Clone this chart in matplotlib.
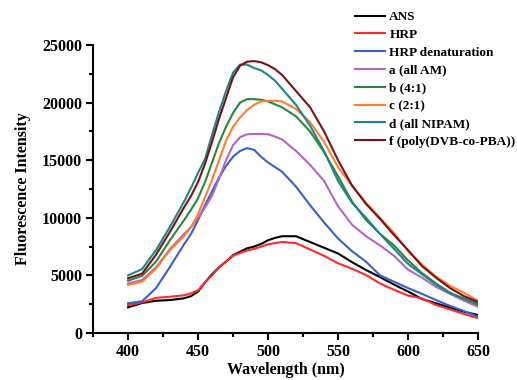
import numpy as np
import matplotlib
matplotlib.use("Agg")
import matplotlib.pyplot as plt
from matplotlib.ticker import MultipleLocator

# wavelength (nm)
wavelength = [400, 410, 420, 430, 440, 445, 450, 455, 460, 465, 470, 475, 480, 485, 490,
              495, 500, 505, 510, 520, 530, 540, 550, 560, 570, 580, 590, 600, 610, 620,
              630, 640, 650]

ans = [2230, 2600, 2800, 2860, 3010, 3200, 3600, 4400, 5100, 5700, 6200, 6750, 7050, 7350, 7500,
       7730, 8050, 8250, 8400, 8400, 7900, 7400, 6900, 6150, 5470, 4850, 4200, 3600, 2950, 2580,
       2200, 1850, 1560]
hrp = [2430, 2650, 3050, 3150, 3270, 3450, 3700, 4400, 5000, 5700, 6200, 6700, 6950, 7150, 7300,
       7500, 7700, 7800, 7900, 7800, 7250, 6700, 6050, 5580, 5030, 4300, 3750, 3250, 3000, 2430,
       2050, 1650, 1280]
hrp_denat = [2580, 2750, 3900, 5750, 7700, 8600, 9800, 11100, 12300, 13500, 14500, 15300, 15800, 16050, 15900,
             15300, 14800, 14400, 14000, 12700, 11100, 9600, 8200, 7100, 6190, 5000, 4450, 3900, 3400, 2860,
             2350, 1900, 1420]
a_all_am = [4300, 4600, 5700, 7300, 8600, 9200, 10000, 10900, 11900, 13400, 15000, 16300, 17000, 17250, 17270,
            17270, 17250, 17050, 16800, 15800, 14600, 13200, 11000, 9400, 8400, 7600, 6700, 5500, 4800, 4000,
            3400, 2800, 2280]
b_4_1 = [4540, 4950, 6200, 8070, 9800, 10700, 11700, 13100, 14800, 16500, 17900, 19100, 20000, 20300, 20300,
         20250, 20100, 19850, 19600, 18800, 17500, 15700, 13600, 11400, 9810, 8600, 7600, 6300, 5200, 4300,
         3500, 2950, 2450]
c_2_1 = [4170, 4450, 5600, 7200, 8400, 9200, 10300, 11800, 13300, 15000, 16700, 17900, 18700, 19350, 19800,
         20100, 20150, 20150, 20100, 19450, 18300, 16600, 14400, 12800, 11300, 10000, 8700, 7100, 5950, 4890,
         4100, 3500, 2800]
d_all_nipam = [5000, 5550, 7200, 9230, 11400, 12600, 13900, 15100, 17200, 19200, 21000, 22600, 23300, 23300, 23000,
               22800, 22400, 21900, 21200, 19800, 18000, 15800, 13200, 11300, 10000, 8600, 7300, 6000, 5100, 4200,
               3450, 3000, 2580]
f_dvb_pba = [4750, 5150, 6800, 8790, 10900, 11900, 13100, 14700, 16600, 18600, 20400, 22200, 23200, 23550, 23600,
             23500, 23250, 22900, 22400, 21000, 19600, 17500, 15000, 12800, 11200, 9900, 8500, 7200, 5800, 4800,
             3900, 3200, 2700]

labels = ["ANS", "HRP", "HRP denaturation", "a (all AM)", "b (4:1)", "c (2:1)",
          "d (all NIPAM)", "f (poly(DVB-co-PBA))"]
colors = ["#000000", "#ff2a2a", "#3b5fc8", "#b566c0", "#2b8442", "#ff7f2a",
          "#1f8585", "#7a1018"]
series = [ans, hrp, hrp_denat, a_all_am, b_4_1, c_2_1, d_all_nipam, f_dvb_pba]

plt.rcParams['font.family'] = ['Liberation Serif', 'DejaVu Serif']
plt.rcParams['font.weight'] = 'bold'

fig = plt.figure(figsize=(5.17, 3.8), dpi=100)
ax = fig.add_axes([0.180, 0.1237, 0.7446, 0.7579])

for y, c, lab in zip(series, colors, labels):
    ax.plot(wavelength, y, color=c, lw=1.5, label=lab, solid_joinstyle='round')

ax.set_xlim(375, 650)
ax.set_ylim(0, 25000)
ax.xaxis.set_major_locator(MultipleLocator(50))
ax.xaxis.set_minor_locator(MultipleLocator(25))
ax.yaxis.set_major_locator(MultipleLocator(5000))
ax.yaxis.set_minor_locator(MultipleLocator(2500))
ax.set_xticks([400, 450, 500, 550, 600, 650])

for s in ['top', 'right']:
    ax.spines[s].set_visible(False)
for s in ['left', 'bottom']:
    ax.spines[s].set_linewidth(1.5)

ax.tick_params(which='major', direction='out', length=5, width=1.5, labelsize=11.5, pad=3)
ax.tick_params(which='minor', direction='out', length=3, width=1.5)
for t in ax.get_xticklabels() + ax.get_yticklabels():
    t.set_fontweight('bold')

ax.set_xlabel("Wavelength (nm)", fontsize=11.5, fontweight='bold', labelpad=1.5)
ax.set_ylabel("Fluorescence Intensity", fontsize=11.5, fontweight='bold', labelpad=8)

fig.legend(loc='upper left', bbox_to_anchor=(355 / 517, 1 - 11 / 380), frameon=False,
           handlelength=2.3, handletextpad=0.3, labelspacing=0.42,
           borderpad=0, borderaxespad=0, prop={'weight': 'bold', 'size': 9.5})

fig.savefig("out.png", dpi=100)
